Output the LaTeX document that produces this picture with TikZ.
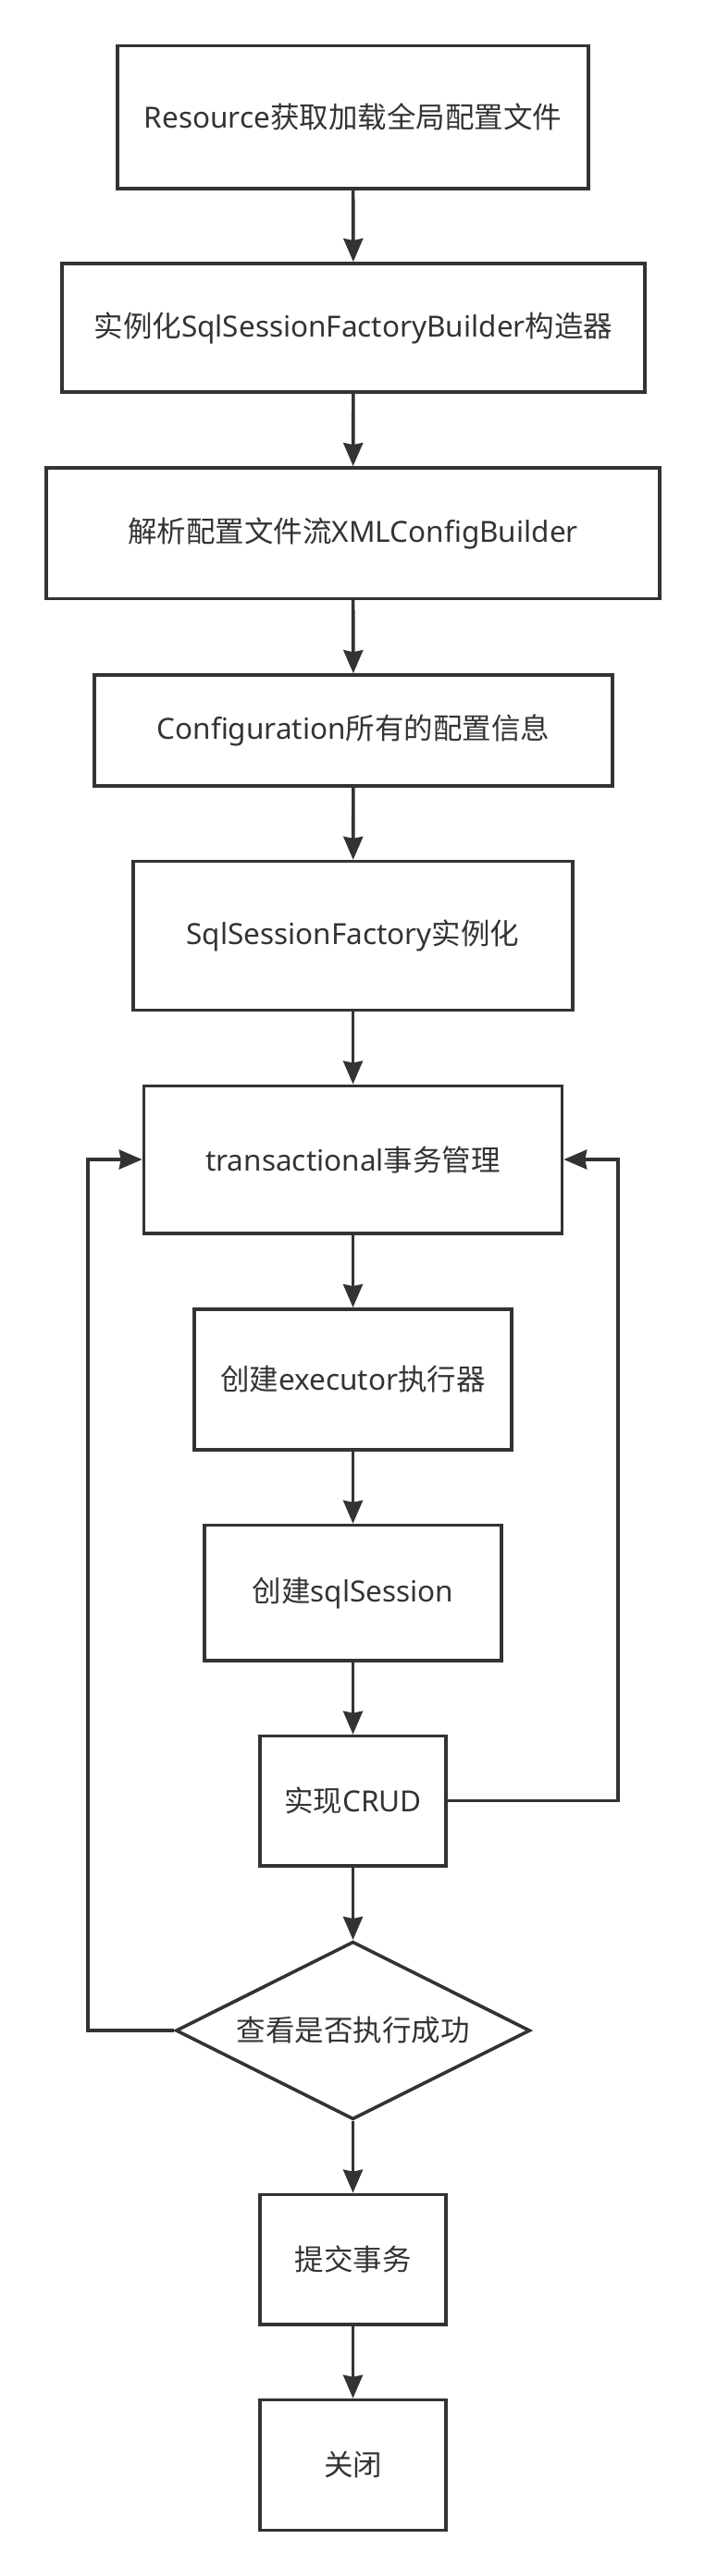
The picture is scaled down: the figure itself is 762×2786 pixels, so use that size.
\documentclass[tikz,border=0pt]{standalone}
\usepackage{fontspec}
\setmainfont{Noto Sans}
\newfontfamily\cjk{Noto Sans CJK SC}
\usetikzlibrary{shapes.geometric,arrows.meta}
\definecolor{ink}{HTML}{333333}
\tikzset{
  box/.style={draw=ink, line width=3.6pt, rectangle, inner sep=0pt, text=ink, font=\fontsize{31.5}{38}\selectfont},
  dia/.style={draw=ink, line width=3.6pt, diamond, aspect=1.99, inner sep=0pt, text=ink, font=\fontsize{31.5}{38}\selectfont},
  conn/.style={draw=ink, line width=3.6pt, -{Stealth[length=25pt,width=21pt,inset=2pt]}},
}
\begin{document}
\begin{tikzpicture}[x=1pt,y=-1pt]
\useasboundingbox (0,0) rectangle (762,2786);
\node[box, minimum width=509pt, minimum height=154.5pt] (b1) at (381.5,126.8) {Resource{\cjk 获取加载全局配置文件}};
\node[box, minimum width=630pt, minimum height=139.3pt] (b2) at (382,354.5) {{\cjk 实例化}SqlSessionFactoryBuilder{\cjk 构造器}};
\node[box, minimum width=663pt, minimum height=141.5pt] (b3) at (381.5,576.6) {{\cjk 解析配置文件流}XMLConfigBuilder};
\node[box, minimum width=560pt, minimum height=120pt] (b4) at (382,790) {Configuration{\cjk 所有的配置信息}};
\node[box, minimum width=475pt, minimum height=160.7pt] (b5) at (381.5,1012) {SqlSessionFactory{\cjk 实例化}};
\node[box, minimum width=452pt, minimum height=159.4pt] (b6) at (381.5,1254) {transactional{\cjk 事务管理}};
\node[box, minimum width=343pt, minimum height=152pt] (b7) at (381.5,1491.8) {{\cjk 创建}executor{\cjk 执行器}};
\node[box, minimum width=321pt, minimum height=146.4pt] (b8) at (381.5,1722.8) {{\cjk 创建}sqlSession};
\node[box, minimum width=201pt, minimum height=140.2pt] (b9) at (381.5,1947.6) {{\cjk 实现}CRUD};
\node[dia, minimum width=383pt, minimum height=192.4pt] (d) at (381.5,2196) {\cjk 查看是否执行成功};
\node[box, minimum width=201pt, minimum height=140.4pt] (b11) at (381.5,2443.6) {\cjk 提交事务};
\node[box, minimum width=201pt, minimum height=141pt] (b12) at (381.5,2666) {\cjk 关闭};
\coordinate (l1) at (95,2196);
\coordinate (l2) at (95,1254);
\coordinate (r1) at (668,1947.6);
\coordinate (r2) at (668,1254);
\draw[conn] (b1) -- (b2);
\draw[conn] (b2) -- (b3);
\draw[conn] (b3) -- (b4);
\draw[conn] (b4) -- (b5);
\draw[conn] (b5) -- (b6);
\draw[conn] (b6) -- (b7);
\draw[conn] (b7) -- (b8);
\draw[conn] (b8) -- (b9);
\draw[conn] (b9) -- (d);
\draw[conn] (d) -- (b11);
\draw[conn] (b11) -- (b12);
\draw[conn] (d.west) -- (l1) -- (l2) -- (b6.west);
\draw[conn] (b9.east) -- (r1) -- (r2) -- (b6.east);
\end{tikzpicture}
\end{document}
